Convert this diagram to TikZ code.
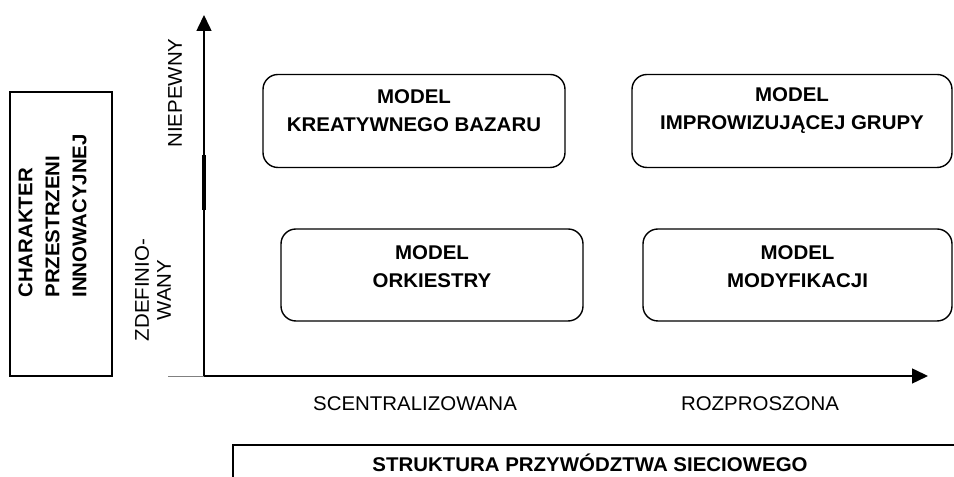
\documentclass[tikz,border=0pt]{standalone}
\usepackage{fontspec}
\setmainfont[FakeStretch=1.03]{Liberation Sans}
\usetikzlibrary{arrows.meta, positioning}

\begin{document}
\begin{tikzpicture}[
  modelbox/.style={draw, thick, rounded corners=8.5pt, minimum height=1.86cm},
  modeltext/.style={font=\bfseries\fontsize{11.3}{15.9}\selectfont, align=center, inner sep=0pt},
  axislabel/.style={font=\fontsize{11.3}{12.5}\selectfont, align=center, inner sep=0pt},
  axisline/.style={line width=0.85pt, -{Triangle[length=0.32cm, width=0.3cm]}}
]
  \useasboundingbox (0,0) rectangle (19.08,9.54);

  % Side box: character of the innovation space
  \draw[line width=0.7pt] (0.2,2.02) rectangle (2.24,7.7);
  \node[font=\bfseries\fontsize{11.3}{15.4}\selectfont, align=left, inner sep=0pt,
        rotate=90, anchor=west] (charakter) at (1.05,3.58)
       {CHARAKTER\\PRZESTRZENI\\INNOWACYJNEJ};

  % Axes
  \coordinate (origin) at (4.08,2.02);
  \coordinate (ytip)   at (4.08,9.24);
  \coordinate (xtip)   at (18.56,2.02);
  \coordinate (xstart) at (3.36,2.02);
  \draw[gray, thin] (xstart) -- (origin);
  \draw[axisline] (origin) -- (ytip);
  \draw[axisline] (origin) -- (xtip);
  \draw[line width=2pt] (4.08,5.34) -- (4.08,6.44);

  % Axis labels
  \node[axislabel, rotate=90] (niepewny) at (3.5,7.68) {NIEPEWNY};
  \node[axislabel, rotate=90] (zdefiniowany) at (3.06,3.74) {ZDEFINIO-\\WANY};
  \node[axislabel] (scentr) at (8.3,1.46) {SCENTRALIZOWANA};
  \node[axislabel] (rozpr) at (15.2,1.46) {ROZPROSZONA};

  % --- Models ---
  \node[modelbox, minimum width=6.04cm] (bazar) at (8.28,7.12) {};
  \node[modeltext] (bazartxt) at ([yshift=0.2cm]bazar.center) {MODEL\\KREATYWNEGO BAZARU};

  \node[modelbox, minimum width=6.4cm] (grupa) at (15.84,7.12) {};
  \node[modeltext] (grupatxt) at ([yshift=0.2cm]grupa.center) {MODEL\\IMPROWIZUJĄCEJ GRUPY};

  \node[modelbox, minimum width=6.04cm, minimum height=1.84cm] (orkiestra) at (8.64,4.04) {};
  \node[modeltext] (orkiestratxt) at ([yshift=0.17cm]orkiestra.center) {MODEL\\ORKIESTRY};

  \node[modelbox, minimum width=6.18cm, minimum height=1.84cm] (modyf) at (15.95,4.04) {};
  \node[modeltext] (modyftxt) at ([yshift=0.17cm]modyf.center) {MODEL\\MODYFIKACJI};

  % Bottom box: network leadership structure
  \draw[line width=0.7pt] (4.66,0) -- (4.66,0.64) -- (19.08,0.64);
  \node[modeltext] (struktura) at (11.8,0.28) {STRUKTURA PRZYWÓDZTWA SIECIOWEGO};
\end{tikzpicture}
\end{document}
